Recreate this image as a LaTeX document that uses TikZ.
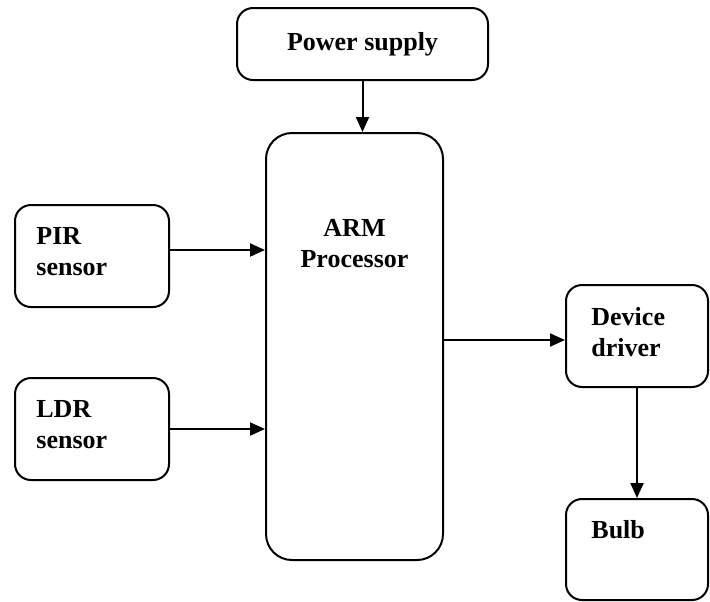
\documentclass[tikz,border=0pt]{standalone}
\usepackage{fontspec}
\setmainfont{Liberation Serif}
\usetikzlibrary{positioning,calc,arrows.meta}

\begin{document}
\begin{tikzpicture}[x=0.5pt, y=-0.5pt,
  block/.style={draw, line width=1pt, rounded corners=8pt, inner sep=0pt},
  blocktext/.style={inner sep=0pt, align=left, font=\fontsize{13}{15.5}\selectfont\bfseries},
  flow/.style={line width=1pt, -{Triangle[length=7.5pt, width=6.5pt]}}]
  \useasboundingbox (0,0) rectangle (710,601);

  % Blocks
  \node[block, minimum width=251*0.5pt, minimum height=72*0.5pt] (power) at (362.5,44) {};
  \node[block, rounded corners=13pt, minimum width=177*0.5pt, minimum height=427*0.5pt] (arm) at (354.5,346.5) {};
  \node[block, minimum width=154*0.5pt, minimum height=102*0.5pt] (pir) at (92,256) {};
  \node[block, minimum width=154*0.5pt, minimum height=102*0.5pt] (ldr) at (92,429) {};
  \node[block, minimum width=142*0.5pt, minimum height=102*0.5pt] (driver) at (637,336) {};
  \node[block, minimum width=142*0.5pt, minimum height=101*0.5pt] (bulb) at (637,549.5) {};

  % Texts
  \node[blocktext] (powertext) at (power.center) {Power supply};
  \node[blocktext, align=center, anchor=north] (armtext) at ($(arm.north)+(0,87)$) {ARM\\Processor};
  \node[blocktext, anchor=north west] (pirtext) at ($(pir.north west)+(22,23)$) {PIR\\sensor};
  \node[blocktext, anchor=north west] (ldrtext) at ($(ldr.north west)+(22,23)$) {LDR\\sensor};
  \node[blocktext, anchor=north west] (drivertext) at ($(driver.north west)+(26,23)$) {Device\\driver};
  \node[blocktext, anchor=north west] (bulbtext) at ($(bulb.north west)+(26,22)$) {Bulb};

  % Connectors
  \draw[flow] (power.south) -- (power.south |- arm.north);
  \draw[flow] ([yshift=3pt]pir.east) -- ([yshift=3pt]pir.east -| arm.west);
  \draw[flow] (ldr.east) -- (ldr.east -| arm.west);
  \draw[flow] ([yshift=-2pt]driver.west -| arm.east) -- ([yshift=-2pt]driver.west);
  \draw[flow] (driver.south) -- (bulb.north);
\end{tikzpicture}
\end{document}
